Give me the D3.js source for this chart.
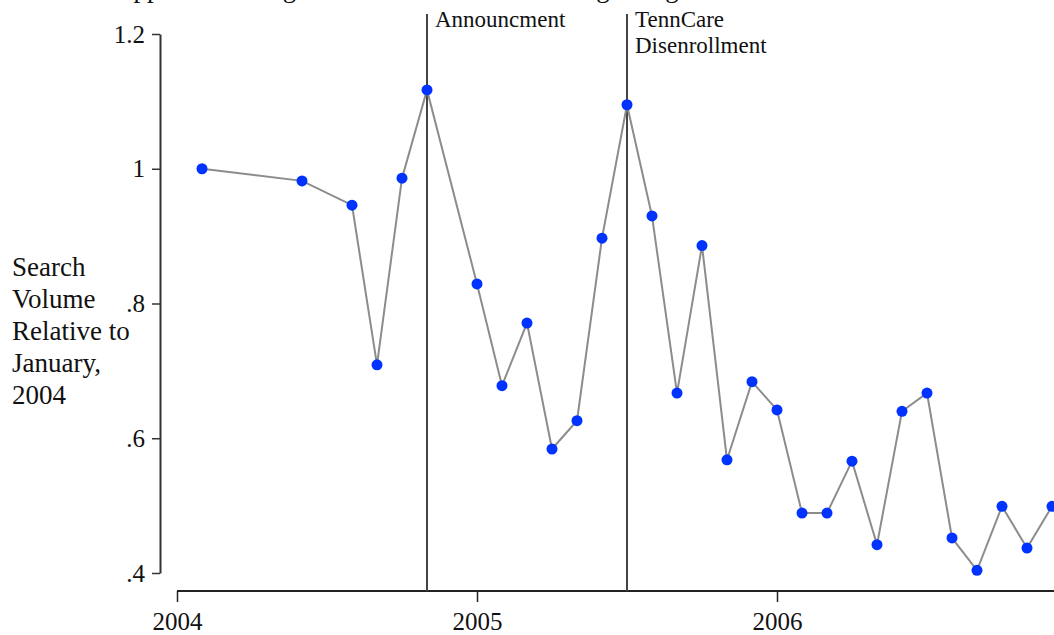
<!DOCTYPE html>
<html>
<head>
<meta charset="utf-8">
<script src="https://cdn.jsdelivr.net/npm/d3@7"></script>
<style>
  body { margin: 0; background: #fff; }
  svg { display: block; font-family: "Liberation Serif", "Times New Roman", serif; }
</style>
</head>
<body>
<div id="graf"></div>
<script>
// meses contados desde dic-2003 (1 = ene-2004)
var meses = [1, 5, 7, 8, 9, 10, 12, 13, 14, 15, 16, 17, 18, 19, 20, 21, 22, 23, 24, 25, 26, 27, 28, 29, 30, 31, 32, 33, 34, 35]
var volumen = [1.0, 0.982, 0.946, 0.709, 0.986, 1.117, 0.829, 0.678, 0.771, 0.584, 0.626, 0.897, 1.095, 0.930, 0.667, 0.886, 0.568, 0.684, 0.642, 0.489, 0.489, 0.566, 0.442, 0.640, 0.667, 0.452, 0.404, 0.499, 0.437, 0.499]

var yTicks = [0.4, 0.6, 0.8, 1.0, 1.2]
var yTickLabels = ['.4', '.6', '.8', '1', '1.2']
var xTicks = [0, 12, 24]
var xTickLabels = ['2004', '2005', '2006']

var eventos = [10, 18]
var eventosTexto = [['Announcment'], ['TennCare', 'Disenrollment']]

var tituloY = ['Search', 'Volume', 'Relative to', 'January,', '2004']

ancho_total = 1054
alto_total = 635

svg = d3.select('#graf').append('svg')
        .attr('width', ancho_total)
        .attr('height', alto_total)

// Escaladores
x = d3.scaleLinear().domain([0, 12]).range([177, 477])
y = d3.scaleLinear().domain([0.4, 1.2]).range([573, 34])

// titulo (queda cortado arriba, como en el original)
svg.append('text')
   .attr('x', 105)
   .attr('y', -3)
   .attr('font-size', 27)
   .attr('fill', '#111')
   .text('Supplemental Figure A1: Online Searches Regarding TennCare')

// Eje Y
yAxisCall = d3.axisLeft(y)
              .tickValues(yTicks)
              .tickFormat((d, i) => yTickLabels[i])
              .tickSize(8)
              .tickSizeOuter(0)
              .tickPadding(7)
yAxis = svg.append('g')
           .attr('transform', 'translate(160, 0)')
           .call(yAxisCall)
yAxis.select('.domain').attr('stroke', '#333').attr('stroke-width', 2)
yAxis.selectAll('.tick line').attr('stroke', '#333').attr('stroke-width', 1.5)
yAxis.selectAll('.tick text')
     .attr('font-family', '"Liberation Serif", serif')
     .attr('font-size', 25)
     .attr('fill', '#111')

// Eje X
xAxisCall = d3.axisBottom(x)
              .tickValues(xTicks)
              .tickFormat((d, i) => xTickLabels[i])
              .tickSize(11)
              .tickSizeOuter(0)
              .tickPadding(10)
xAxis = svg.append('g')
           .attr('transform', 'translate(0, 591)')
           .call(xAxisCall)
xAxis.select('.domain')
     .attr('d', `M${x(0)},0H${ancho_total + 5}`)
     .attr('stroke', '#222').attr('stroke-width', 2)
xAxis.selectAll('.tick line').attr('stroke', '#222').attr('stroke-width', 1.5)
xAxis.selectAll('.tick text')
     .attr('font-family', '"Liberation Serif", serif')
     .attr('font-size', 25)
     .attr('fill', '#111')

// titulo eje Y
tY = svg.append('text')
        .attr('font-size', 27)
        .attr('fill', '#111')
tY.selectAll('tspan')
  .data(tituloY)
  .join('tspan')
  .attr('x', 12)
  .attr('y', (d, i) => 276 + i * 32)
  .text(d => d)

// lineas de eventos
eventos.forEach((m, i) => {
  svg.append('line')
     .attr('x1', x(m)).attr('x2', x(m))
     .attr('y1', 14).attr('y2', 591)
     .attr('stroke', '#444')
     .attr('stroke-width', 2)
  eventosTexto[i].forEach((t, j) => {
    svg.append('text')
       .attr('x', x(m) + 8)
       .attr('y', 27 + j * 26)
       .attr('font-size', 23)
       .attr('fill', '#111')
       .text(t)
  })
})

// Generador de líneas
datos = meses.map((m, i) => ({ mes: m, valor: volumen[i] }))
lineaGen = d3.line().x(d => x(d.mes)).y(d => y(d.valor))

svg.append('path')
   .datum(datos)
   .attr('fill', 'none')
   .attr('stroke', '#8c8c8c')
   .attr('stroke-width', 2)
   .attr('d', lineaGen)

svg.selectAll('circle.punto')
   .data(datos)
   .join('circle')
   .attr('class', 'punto')
   .attr('cx', d => x(d.mes))
   .attr('cy', d => y(d.valor))
   .attr('r', 5.5)
   .attr('fill', '#0033ff')
</script>
</body>
</html>
